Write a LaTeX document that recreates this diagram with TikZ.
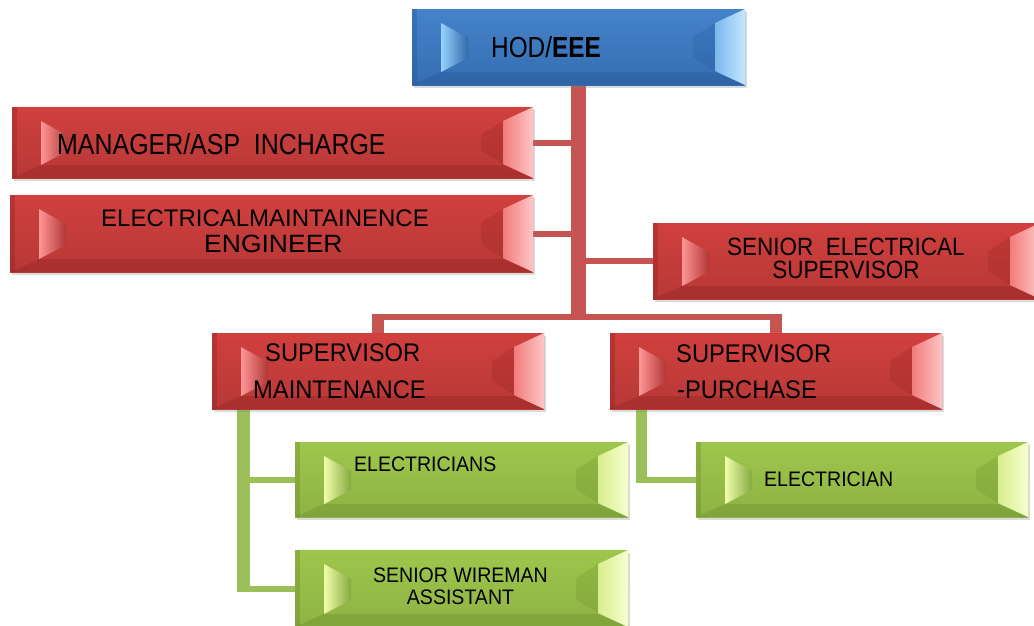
\documentclass[tikz,border=0pt]{standalone}
\usepackage{fontspec}
\setmainfont{Liberation Sans}
\newfontfamily\fsA[FakeStretch=0.84]{Liberation Sans}
\newfontfamily\fsE[FakeStretch=0.86]{Liberation Sans}
\newfontfamily\fsB[FakeStretch=0.90]{Liberation Sans}
\newfontfamily\fsC[FakeStretch=0.93]{Liberation Sans}
\newfontfamily\fsD[FakeStretch=1.0]{Liberation Sans}
\newfontfamily\fsF[FakeStretch=1.06]{Liberation Sans}
\usetikzlibrary{calc,shadows}
\pgfdeclarelayer{bg}
\pgfsetlayers{bg,main}
\definecolor{bMain}{RGB}{60,124,200}
\definecolor{bLight}{RGB}{150,210,255}
\definecolor{bDark}{RGB}{36,84,150}
\definecolor{rMain}{RGB}{208,64,62}
\definecolor{rLight}{RGB}{255,150,150}
\definecolor{rDark}{RGB}{140,32,32}
\definecolor{gMain}{RGB}{158,198,76}
\definecolor{gLight}{RGB}{240,255,170}
\definecolor{gDark}{RGB}{100,136,40}
\definecolor{rLine}{RGB}{198,84,82}
\definecolor{gLine}{RGB}{155,192,89}
\tikzset{
  box/.style={anchor=north west, inner sep=0pt, outer sep=0pt,
    drop shadow={opacity=0.28, shadow xshift=2pt, shadow yshift=-3pt}},
  bluebox/.style={box, top color=bMain!95!white, bottom color=bMain!88!black},
  redbox/.style={box, top color=rMain, bottom color=rMain!88!black},
  greenbox/.style={box, top color=gMain, bottom color=gMain!90!black},
  txt/.style={anchor=base west, inner sep=0pt, text=black},
  ctxt/.style={anchor=base, inner sep=0pt, text=black},
  rcon/.style={rLine},
  gcon/.style={gLine},
}
\newcommand\bevelon[4]{%
  % bottom dark band
  \fill[#4, opacity=0.32] (#1.south west) -- (#1.south east) -- ($(#1.south east)+(-30pt,13pt)$) -- ($(#1.south west)+(29pt,13pt)$) -- cycle;
  % left dark edge
  \fill[#4, opacity=0.35] (#1.north west) rectangle ($(#1.south west)+(5pt,0)$);
  % dark region before right bevel
  \fill[#4, opacity=0.22] ($(#1.north east)+(-52pt,-28pt)$) -- ($(#1.north east)+(-30pt,-14pt)$) -- ($(#1.south east)+(-30pt,14pt)$) -- ($(#1.south east)+(-52pt,28pt)$) -- cycle;
  % left light bevel
  \shade[left color=#3, right color=#2!85!black] ($(#1.north west)+(29pt,-14pt)$) -- ($(#1.north west)+(56pt,-29pt)$) -- ($(#1.south west)+(56pt,27pt)$) -- ($(#1.south west)+(29pt,13pt)$) -- cycle;
  % right light bevel
  \shade[left color=#3!70!#2, right color=#3!55!white] ($(#1.north east)+(-30pt,-14pt)$) -- (#1.north east) -- (#1.south east) -- ($(#1.south east)+(-30pt,14pt)$) -- cycle;
}
\begin{document}
\begin{tikzpicture}[x=1pt,y=-1pt]
\useasboundingbox (0,0) rectangle (1034,625);
\begin{pgfonlayer}{bg}
  \fill[white] (0,0) rectangle (1034,625);
\end{pgfonlayer}
\clip (0,0) rectangle (1034,625);

% boxes
\node[bluebox, minimum width=333pt, minimum height=76pt] (hod) at (412,9) {};
\node[redbox, minimum width=521pt, minimum height=71pt] (mgr) at (12,107) {};
\node[redbox, minimum width=523pt, minimum height=77pt] (eng) at (10,195) {};
\node[redbox, minimum width=387pt, minimum height=76pt] (ses) at (653,223) {};
\node[redbox, minimum width=332pt, minimum height=76pt] (smt) at (212,333) {};
\node[redbox, minimum width=332pt, minimum height=76pt] (spu) at (610,333) {};
\node[greenbox, minimum width=333pt, minimum height=75pt] (ecs) at (295,442) {};
\node[greenbox, minimum width=333pt, minimum height=77pt] (swa) at (295,550) {};
\node[greenbox, minimum width=332pt, minimum height=75pt] (ecn) at (696,442) {};

\bevelon{hod}{bMain}{bLight}{bDark}
\bevelon{mgr}{rMain}{rLight}{rDark}
\bevelon{eng}{rMain}{rLight}{rDark}
\bevelon{ses}{rMain}{rLight}{rDark}
\bevelon{smt}{rMain}{rLight}{rDark}
\bevelon{spu}{rMain}{rLight}{rDark}
\bevelon{ecs}{gMain}{gLight}{gDark}
\bevelon{swa}{gMain}{gLight}{gDark}
\bevelon{ecn}{gMain}{gLight}{gDark}

% connectors
\coordinate (bar) at (578.5,317);
\coordinate (gA) at ($(smt.south west)+(31pt,0)$);
\coordinate (gB) at ($(spu.south west)+(31pt,0)$);
\begin{pgfonlayer}{bg}
  \draw[rcon, line width=15pt] (hod.south) -- ($(hod.south |- bar)+(0,-3pt)$);
  \draw[rcon, line width=6pt] (mgr.east) -- (mgr.east -| hod.south);
  \draw[rcon, line width=6pt] (eng.east) -- (eng.east -| hod.south);
  \draw[rcon, line width=6pt] (ses.west) -- (ses.west -| hod.south);
  \draw[rcon, line width=6pt] ($(smt.north |- bar)+(-6pt,0)$) -- ($(spu.north |- bar)+(6pt,0)$);
  \draw[rcon, line width=12pt] ($(smt.north |- bar)+(0,3pt)$) -- (smt.north);
  \draw[rcon, line width=12pt] ($(spu.north |- bar)+(0,3pt)$) -- (spu.north);
  \draw[gcon, line width=13pt] (gA) -- ($(gA |- swa.west)+(0,-3pt)$);
  \draw[gcon, line width=6pt] (gA |- ecs.west) -- (ecs.west);
  \draw[gcon, line width=6pt] (gA |- swa.west) -- (swa.west);
  \draw[gcon, line width=11pt] (gB) -- ($(gB |- ecn.west)+(0,-3pt)$);
  \draw[gcon, line width=6pt] ($(gB |- ecn.west)+(-5.5pt,0)$) -- (ecn.west);
\end{pgfonlayer}

% texts
\node[txt, font=\fsA\fontsize{29}{29}\selectfont] (t-hod) at (491,57) {HOD/\textbf{EEE}};
\node[txt, font=\fsE\fontsize{29}{29}\selectfont] (t-mgr) at (57,154) {MANAGER/ASP\ \ INCHARGE};
\node[txt, font=\fsD\fontsize{24}{24}\selectfont] (t-eng1) at (101,226) {ELECTRICALMAINTAINENCE};
\node[txt, font=\fsF\fontsize{25}{25}\selectfont] (t-eng2) at (204,252) {ENGINEER};
\node[ctxt, font=\fsB\fontsize{25}{25}\selectfont] (t-ses1) at (846,255) {SENIOR\ \ ELECTRICAL};
\node[ctxt, font=\fsB\fontsize{25}{25}\selectfont] (t-ses2) at (846,278) {SUPERVISOR};
\node[txt, font=\fsC\fontsize{25.5}{26}\selectfont] (t-smt1) at (265,361) {SUPERVISOR};
\node[txt, font=\fsC\fontsize{25.5}{26}\selectfont] (t-smt2) at (253,398) {MAINTENANCE};
\node[txt, font=\fsC\fontsize{25.5}{26}\selectfont] (t-spu1) at (676,362) {SUPERVISOR};
\node[txt, font=\fsC\fontsize{25.5}{26}\selectfont] (t-spu2) at (677,398) {-PURCHASE};
\node[txt, font=\fsC\fontsize{21}{21}\selectfont] (t-ecs) at (354,471) {ELECTRICIANS};
\node[ctxt, font=\fsC\fontsize{21}{21}\selectfont] (t-swa1) at (460.5,582) {SENIOR WIREMAN};
\node[ctxt, font=\fsC\fontsize{21}{21}\selectfont] (t-swa2) at (460.5,604) {ASSISTANT};
\node[txt, font=\fsC\fontsize{21}{21}\selectfont] (t-ecn) at (764,486) {ELECTRICIAN};
\end{tikzpicture}
\end{document}
